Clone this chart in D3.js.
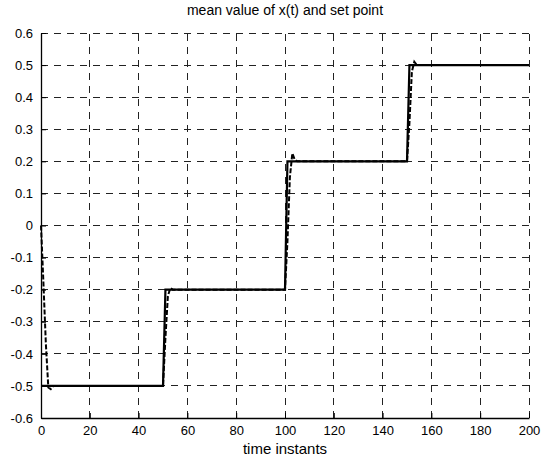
<!DOCTYPE html>
<html>
<head>
<meta charset="utf-8">
<script src="https://cdn.jsdelivr.net/npm/d3@7"></script>
<style>
  body { margin: 0; background: #fff; }
  text { font-family: "Liberation Sans", Arial, sans-serif; fill: #000; }
</style>
</head>
<body>
<div id="chart"></div>
<script>
// set point (solid) breakpoints
const setTime = [0, 50, 51, 100, 101, 150, 151, 200];
const setValue = [-0.5, -0.5, -0.2, -0.2, 0.2, 0.2, 0.5, 0.5];

// mean value of x(t) (dashed)
const meanTime = [0, 1, 2, 3, 4, 5, 50, 51, 52, 53, 54, 100, 101, 102, 103, 104, 105, 150, 151, 152, 153, 154, 200];
const meanValue = [0, -0.18, -0.37, -0.505, -0.51, -0.5, -0.5, -0.35, -0.22, -0.195, -0.2, -0.2, -0.05, 0.15, 0.225, 0.205, 0.2, 0.2, 0.32, 0.48, 0.51, 0.5, 0.5];

const xTicks = [0, 20, 40, 60, 80, 100, 120, 140, 160, 180, 200];
const yTicks = [-0.6, -0.5, -0.4, -0.3, -0.2, -0.1, 0, 0.1, 0.2, 0.3, 0.4, 0.5, 0.6];
const yTickLabels = ["-0.6", "-0.5", "-0.4", "-0.3", "-0.2", "-0.1", "0", "0.1", "0.2", "0.3", "0.4", "0.5", "0.6"];

const width = 553, height = 462;
const margin = { left: 41, right: 24, top: 33, bottom: 44 };

const svg = d3.select("#chart").append("svg")
    .attr("width", width)
    .attr("height", height);

const x = d3.scaleLinear().domain([0, 200]).range([margin.left, width - margin.right]);
const y = d3.scaleLinear().domain([-0.6, 0.6]).range([height - margin.bottom, margin.top]);

// dashed grid
const grid = svg.append("g")
    .attr("stroke", "#222")
    .attr("stroke-width", 1)
    .attr("stroke-dasharray", "7,6")
    .attr("shape-rendering", "crispEdges");

grid.selectAll("line.v")
    .data(xTicks.filter(d => d !== 0))
    .join("line")
    .attr("class", "v")
    .attr("x1", d => x(d)).attr("x2", d => x(d))
    .attr("y1", y(-0.6)).attr("y2", y(0.6));

grid.selectAll("line.h")
    .data(yTicks.filter(d => d !== -0.6))
    .join("line")
    .attr("class", "h")
    .attr("x1", x(0)).attr("x2", x(200))
    .attr("y1", d => y(d)).attr("y2", d => y(d));

// axes, ticks pointing inward
const xAxis = d3.axisBottom(x)
    .tickValues(xTicks)
    .tickSizeInner(-5)
    .tickSizeOuter(0)
    .tickPadding(8)
    .tickFormat(d => String(d));

const yAxis = d3.axisLeft(y)
    .tickValues(yTicks)
    .tickSizeInner(-5)
    .tickSizeOuter(0)
    .tickPadding(8)
    .tickFormat((d, i) => yTickLabels[i]);

const gx = svg.append("g")
    .attr("transform", `translate(0, ${y(-0.6)})`)
    .call(xAxis);
const gy = svg.append("g")
    .attr("transform", `translate(${x(0)}, 0)`)
    .call(yAxis);

[gx, gy].forEach(g => {
    g.selectAll("path").attr("stroke", "#000").attr("stroke-width", 1.3);
    g.selectAll("line").attr("stroke", "#000");
    g.selectAll("text")
        .style("font-family", "Liberation Sans, Arial, sans-serif")
        .style("font-size", "13px")
        .attr("fill", "#000");
});

// the two lines
const line = d3.line()
    .x(d => x(d[0]))
    .y(d => y(d[1]));

svg.append("path")
    .datum(meanTime.map((t, i) => [t, meanValue[i]]))
    .attr("d", line)
    .attr("fill", "none")
    .attr("stroke", "#000")
    .attr("stroke-width", 2)
    .attr("stroke-dasharray", "5,2");

svg.append("path")
    .datum(setTime.map((t, i) => [t, setValue[i]]))
    .attr("d", line)
    .attr("fill", "none")
    .attr("stroke", "#000")
    .attr("stroke-width", 2.2);

// title and x label
svg.append("text")
    .attr("x", (x(0) + x(200)) / 2)
    .attr("y", 15)
    .attr("text-anchor", "middle")
    .style("font-size", "14px")
    .text("mean value of x(t) and set point");

svg.append("text")
    .attr("x", (x(0) + x(200)) / 2)
    .attr("y", 454)
    .attr("text-anchor", "middle")
    .style("font-size", "15px")
    .text("time instants");
</script>
</body>
</html>
